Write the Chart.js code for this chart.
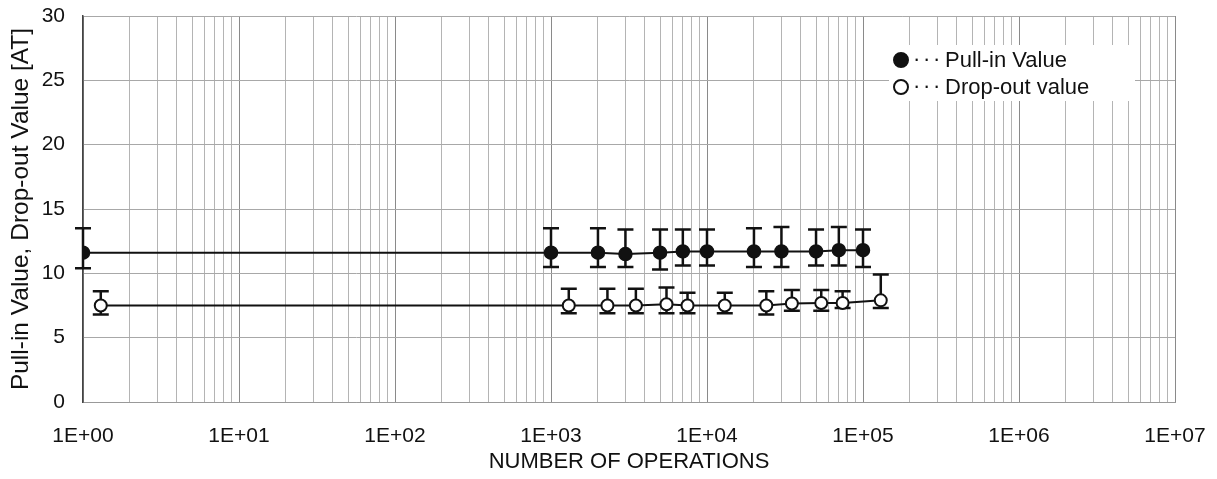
<!DOCTYPE html>
<html>
<head>
<meta charset="utf-8">
<script src="https://cdn.jsdelivr.net/npm/chart.js@4/dist/chart.umd.min.js"></script>
<style>
  html, body { margin: 0; padding: 0; background: #fff; }
  #wrap { width: 1217px; height: 479px; position: relative; }
</style>
</head>
<body>
<div id="wrap"><canvas id="chart"></canvas></div>
<script>
// number of operations for each measurement
const pullInOps = [1, 1000, 2000, 3000, 5000, 7000, 10000, 20000, 30000, 50000, 70000, 100000];
const pullInAvg = [11.6, 11.6, 11.6, 11.5, 11.6, 11.7, 11.7, 11.7, 11.7, 11.7, 11.8, 11.8];
const pullInMax = [13.5, 13.5, 13.5, 13.4, 13.4, 13.4, 13.4, 13.5, 13.6, 13.4, 13.6, 13.4];
const pullInMin = [10.4, 10.5, 10.5, 10.5, 10.3, 10.6, 10.6, 10.5, 10.5, 10.6, 10.6, 10.5];

const dropOutOps = [1.3, 1300, 2300, 3500, 5500, 7500, 13000, 24000, 35000, 54000, 74000, 130000];
const dropOutAvg = [7.5, 7.5, 7.5, 7.5, 7.6, 7.5, 7.5, 7.5, 7.65, 7.7, 7.7, 7.9];
const dropOutMax = [8.6, 8.8, 8.8, 8.8, 8.9, 8.5, 8.5, 8.6, 8.7, 8.7, 8.6, 9.9];
const dropOutMin = [6.8, 6.9, 6.9, 6.9, 6.9, 6.9, 6.9, 6.8, 7.1, 7.1, 7.3, 7.3];

const legendLabels = ["Pull-in Value", "Drop-out value"];
const FONT = "'Liberation Sans', Arial, sans-serif";

const toPoints = (xs, ys) => xs.map((x, i) => ({ x, y: ys[i] }));

// error bars drawn under the markers
const errorBars = {
    id: "errorBars",
    beforeDatasetsDraw(chart) {
        const { ctx, scales: { x, y } } = chart;
        const sets = [[pullInOps, pullInMin, pullInMax], [dropOutOps, dropOutMin, dropOutMax]];
        ctx.save();
        ctx.strokeStyle = "#111";
        ctx.lineWidth = 2.5;
        for (const [ops, lo, hi] of sets) {
            ops.forEach((v, i) => {
                const px = x.getPixelForValue(v);
                const top = y.getPixelForValue(hi[i]);
                const bot = y.getPixelForValue(lo[i]);
                ctx.beginPath();
                ctx.moveTo(px, top); ctx.lineTo(px, bot);
                ctx.moveTo(px - 8, top); ctx.lineTo(px + 8, top);
                ctx.moveTo(px - 8, bot); ctx.lineTo(px + 8, bot);
                ctx.stroke();
            });
        }
        ctx.restore();
    }
};

const boxLegend = {
    id: "boxLegend",
    afterDatasetsDraw(chart) {
        const { ctx } = chart;
        ctx.save();
        ctx.fillStyle = "#fff";
        ctx.fillRect(889, 45, 246, 56);
        ctx.font = "22px " + FONT;
        ctx.textBaseline = "middle";
        ctx.lineWidth = 2;
        ctx.strokeStyle = "#111";
        [60, 87].forEach((cy, i) => {
            ctx.beginPath();
            ctx.arc(901, cy, 7, 0, Math.PI * 2);
            ctx.fillStyle = i === 0 ? "#111" : "#fff";
            ctx.fill();
            ctx.stroke();
            ctx.fillStyle = "#111";
            ctx.fillText("\u00B7", 913, cy);
            ctx.fillText("\u00B7", 923, cy);
            ctx.fillText("\u00B7", 933, cy);
            ctx.fillText(legendLabels[i], 945, cy + 1);
        });
        ctx.restore();
    }
};

const isDecade = v => Math.abs(Math.log10(v) - Math.round(Math.log10(v))) < 1e-9;

new Chart(document.getElementById("chart"), {
    type: "line",
    data: {
        datasets: [
            {
                label: "Pull-in Value",
                data: toPoints(pullInOps, pullInAvg),
                borderColor: "#111",
                borderWidth: 2,
                pointRadius: 6.5,
                pointBackgroundColor: "#111",
                pointBorderColor: "#111",
                pointBorderWidth: 1.5,
                tension: 0,
            },
            {
                label: "Drop-out value",
                data: toPoints(dropOutOps, dropOutAvg),
                borderColor: "#111",
                borderWidth: 2,
                pointRadius: 6,
                pointBackgroundColor: "#fff",
                pointBorderColor: "#111",
                pointBorderWidth: 2,
                tension: 0,
            },
        ]
    },
    options: {
        responsive: true,
        maintainAspectRatio: false,
        animation: false,
        layout: { padding: { left: 0, top: 16, right: 42, bottom: 0 } },
        plugins: { legend: { display: false }, tooltip: { enabled: false } },
        scales: {
            x: {
                type: "logarithmic",
                min: 1,
                max: 1e7,
                afterBuildTicks(scale) {
                    const ticks = [];
                    for (let e = 0; e < 7; e++) {
                        for (let m = 1; m < 10; m++) ticks.push({ value: m * Math.pow(10, e) });
                    }
                    ticks.push({ value: 1e7 });
                    scale.ticks = ticks;
                },
                afterFit(scale) {
                    scale.height = 77;
                    scale.paddingLeft = 0;
                    scale.paddingRight = 0;
                },
                ticks: {
                    autoSkip: false,
                    maxRotation: 0,
                    padding: 22,
                    color: "#111",
                    font: { family: FONT, size: 21 },
                    callback(v) {
                        if (!isDecade(v)) return "";
                        return "1E+0" + Math.round(Math.log10(v));
                    }
                },
                grid: {
                    drawTicks: false,
                    color: c => isDecade(c.tick.value) ? "#8a8a8a" : "#b4b4b4",
                    lineWidth: 1,
                },
                border: { color: "#999" },
                title: {
                    display: true,
                    text: "NUMBER OF OPERATIONS",
                    color: "#111",
                    font: { family: FONT, size: 22 },
                    padding: { top: 0, bottom: 4 },
                },
            },
            y: {
                min: 0,
                max: 30,
                afterFit(scale) {
                    scale.width = 83;
                    scale.paddingTop = 0;
                    scale.paddingBottom = 0;
                },
                ticks: {
                    stepSize: 5,
                    padding: 18,
                    color: "#111",
                    font: { family: FONT, size: 21 },
                },
                grid: { drawTicks: false, color: "#a8a8a8" },
                border: { color: "#444", width: 1.5 },
                title: {
                    display: true,
                    text: "Pull-in Value, Drop-out Value [AT]",
                    color: "#111",
                    font: { family: FONT, size: 24.5 },
                    padding: { top: 7, bottom: 4 },
                },
            },
        },
    },
    plugins: [errorBars, boxLegend],
});
</script>
</body>
</html>
